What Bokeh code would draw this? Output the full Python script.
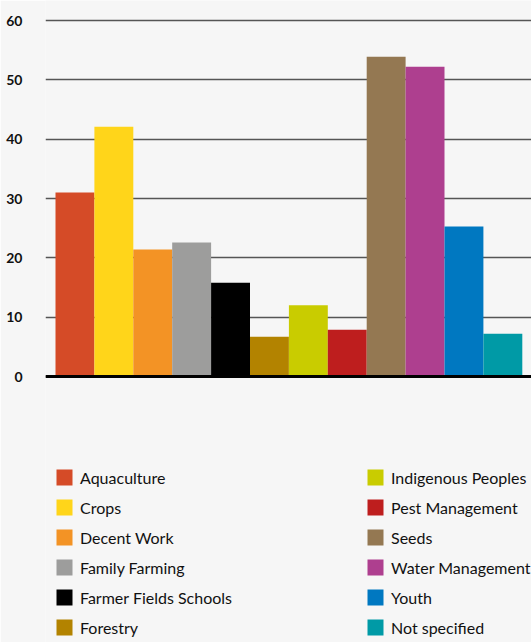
from bokeh.plotting import figure
from bokeh.models import ColumnDataSource, Legend, LegendItem, FixedTicker, Span, Range1d
from bokeh.embed import file_html
from bokeh.resources import INLINE

categories = ["Aquaculture", "Crops", "Decent Work", "Family Farming", "Farmer Fields Schools",
              "Forestry", "Indigenous Peoples", "Pest Management", "Seeds", "Water Management",
              "Youth", "Not specified"]
values = [31.0, 42.1, 21.4, 22.6, 15.8, 6.7, 12.0, 7.9, 53.9, 52.2, 25.3, 7.2]
colors = ["#D54B27", "#FFD51A", "#F39325", "#9D9D9C", "#000000", "#B38300",
          "#C9CC00", "#BE1E1E", "#947852", "#AE3F8F", "#0078C1", "#009AA6"]
y_ticks = [0, 10, 20, 30, 40, 50, 60]

FONT = "Lato"
BG = "#F6F6F6"

W, H = 531, 642
left = 45
px_per_unit_y = 356 / 60.0
zero_px = 376
bar_px = 38.9

p = figure(width=W, height=H, output_backend="svg", toolbar_location=None,
           min_border_left=left, min_border_right=0, min_border_top=0, min_border_bottom=0,
           background_fill_color=BG, border_fill_color=BG, outline_line_color=None)

x_start = -0.5 - 10 / bar_px
p.x_range = Range1d(x_start, x_start + (W - left) / bar_px)
p.y_range = Range1d(-(H - zero_px) / px_per_unit_y, 60 + 20 / px_per_unit_y)

src = ColumnDataSource(dict(x=list(range(len(categories))), top=values, color=colors, cat=categories))
r = p.vbar(x="x", top="top", bottom=0, width=1.0, fill_color="color", line_color=None, source=src)

p.xaxis.visible = False
p.xgrid.visible = False
p.ygrid.ticker = FixedTicker(ticks=y_ticks)
p.ygrid.grid_line_color = "#555555"
p.ygrid.grid_line_width = 1.5

ax = p.yaxis[0]
ax.ticker = FixedTicker(ticks=y_ticks)
ax.axis_line_color = None
ax.major_tick_line_color = None
ax.minor_tick_line_color = None
ax.major_label_text_font = FONT
ax.major_label_text_font_style = "bold"
ax.major_label_text_font_size = "14px"
ax.major_label_text_color = "#111111"
ax.major_label_standoff = 17

p.add_layout(Span(location=0, dimension="width", line_color="black", line_width=3))

items1 = [LegendItem(label=categories[i], renderers=[r], index=i) for i in range(6)]
items2 = [LegendItem(label=categories[i], renderers=[r], index=i) for i in range(6, 12)]

for items, lx in ((items1, 9), (items2, 320)):
    lg = Legend(items=items, location=(lx, 5), orientation="vertical",
                glyph_width=20, glyph_height=20, label_height=20, spacing=10,
                label_standoff=6, padding=0, margin=0,
                border_line_color=None, background_fill_alpha=0,
                label_text_font=FONT, label_text_font_size="16px", label_text_color="#111111")
    p.add_layout(lg, "center")

open("out.html", "w").write(file_html(p, INLINE))
